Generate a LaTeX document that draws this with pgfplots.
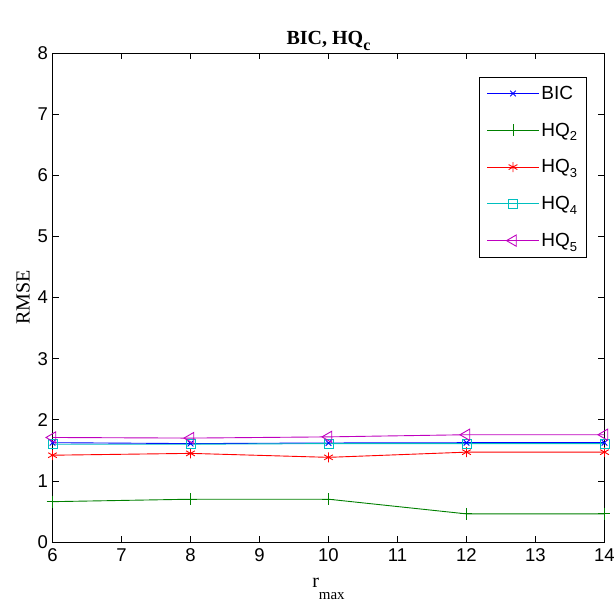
\documentclass[border=0pt]{standalone}
\usepackage{pgfplots}
\pgfplotsset{compat=1.18}
\usepackage{fontspec}
\setmainfont{Liberation Serif}
\newfontfamily\arial{Liberation Sans}
\definecolor{mblue}{rgb}{0,0,1}
\definecolor{mgreen}{rgb}{0,0.5,0}
\definecolor{mred}{rgb}{1,0,0}
\definecolor{mcyan}{rgb}{0,0.75,0.75}
\definecolor{mmag}{rgb}{0.75,0,0.75}
\newcommand{\sub}[1]{\raisebox{-0.45ex}{\fontsize{13}{14}\selectfont #1}}
\begin{document}
\begin{tikzpicture}
\begin{axis}[
  name=ax,
  scale only axis,
  width=552pt, height=489pt,
  xmin=6, xmax=14, ymin=0, ymax=8,
  xtick={6,7,...,14}, ytick={0,1,...,8},
  tick align=inside,
  major tick length=6pt,
  axis line style={line width=0.8pt},
  every tick/.style={black, line width=0.6pt},
  tick label style={font=\arial\fontsize{18.5}{20}\selectfont},
  /pgf/number format/assume math mode=true,
  xticklabel style={yshift=-3pt},
  yticklabel style={xshift=-1pt},
  title={\bfseries\fontsize{20}{22}\selectfont BIC, HQ\raisebox{-6pt}{\fontsize{16}{18}\selectfont c}},
  title style={yshift=-7pt},
  xlabel={\fontsize{20}{22}\selectfont r\raisebox{-12pt}{\fontsize{15}{17}\selectfont max}},
  xlabel style={yshift=-10pt},
  ylabel={\fontsize{20}{22}\selectfont RMSE},
  ylabel style={yshift=1pt},
  legend style={at={(0.967,0.951)}, anchor=north east, font=\arial\fontsize{19}{21}\selectfont,
     inner xsep=7pt, inner ysep=7pt, row sep=18pt, cells={anchor=west}},
  legend image code/.code={\draw[mark repeat=2,mark phase=2] plot coordinates {(0cm,0cm)(0.91cm,0cm)(1.82cm,0cm)};},
  every axis plot/.append style={line width=0.9pt},
]
\addplot[color=mblue, mark=x, mark size=4pt] coordinates {(6,1.625)(8,1.61)(10,1.62)(12,1.625)(14,1.625)};
\addlegendentry{BIC}
\addplot[color=mgreen, mark=+, mark size=6pt] coordinates {(6,0.66)(8,0.70)(10,0.70)(12,0.46)(14,0.46)};
\addlegendentry{HQ\sub{2}}
\addplot[color=mred, mark=asterisk, mark size=5pt] coordinates {(6,1.42)(8,1.45)(10,1.385)(12,1.47)(14,1.47)};
\addlegendentry{HQ\sub{3}}
\addplot[color=mcyan, mark=square, mark size=4.5pt] coordinates {(6,1.60)(8,1.60)(10,1.61)(12,1.61)(14,1.61)};
\addlegendentry{HQ\sub{4}}
\addplot[color=mmag, mark=triangle, mark options={rotate=90}, mark size=6.5pt] coordinates {(6,1.71)(8,1.70)(10,1.72)(12,1.755)(14,1.755)};
\addlegendentry{HQ\sub{5}}
\end{axis}
\pgfresetboundingbox
\path (ax.south west) ++(-52.5pt,-61pt) rectangle ++(615pt,603pt);
\end{tikzpicture}
\end{document}
